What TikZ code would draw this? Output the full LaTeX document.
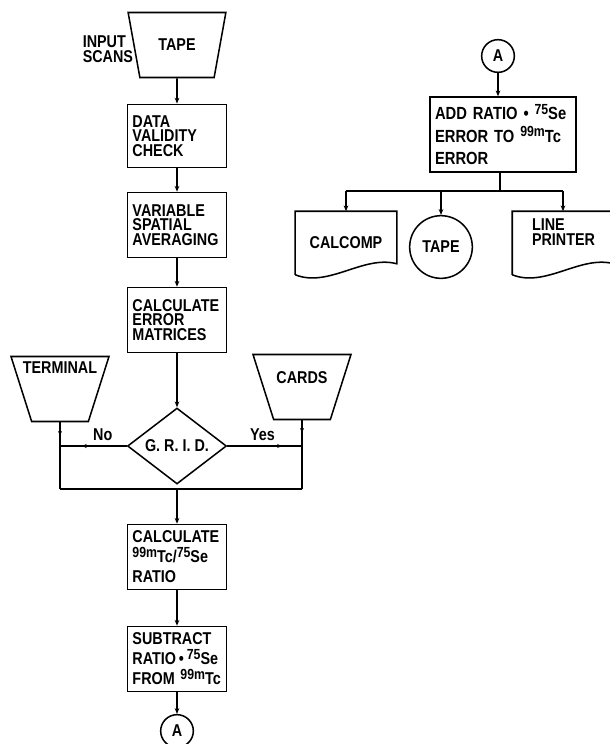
\documentclass[tikz,border=0pt]{standalone}
\usepackage{fontspec}
\setmainfont{Liberation Sans}[FakeStretch=0.84]
\usetikzlibrary{shapes.geometric, arrows.meta, calc, decorations.markings}
\newcommand{\iso}[1]{\raisebox{0.55ex}{\fontsize{12.5}{12.5}\selectfont #1}}

\begin{document}
\begin{tikzpicture}[
  x=0.03cm, y=-0.03cm,
  font=\bfseries\fontsize{14.6}{12.6}\selectfont,
  line width=1.3pt,
  proc/.style={draw, rectangle, minimum width=2.97cm, minimum height=1.95cm, text width=2.67cm, inner xsep=0.15cm, align=left},
  inbox/.style={draw, trapezium, shape border rotate=180, trapezium left angle=70, trapezium right angle=70, trapezium stretches=true, minimum width=2.94cm, minimum height=1.95cm},
  decision/.style={draw, diamond, minimum width=2.97cm, minimum height=2.13cm, inner sep=0pt},
  conn/.style={draw, circle, minimum size=0.98cm, inner sep=0pt},
  doc/.style={rectangle, minimum width=3cm, minimum height=1.86cm, align=left},
  arr/.style={-{Stealth[length=5pt, width=4pt]}},
  marrow/.style={postaction={decorate}, decoration={markings, mark=at position #1 with {\arrow{Stealth[length=4pt, width=3.5pt]}}}}
]
\useasboundingbox (0,0) rectangle (610,744);

\node[inbox] (tape) at (177,45) {TAPE};
\node[anchor=north west, align=left, inner sep=0pt] (inscan) at (82,35) {INPUT\\SCANS};
\node[proc, minimum height=1.9cm] (valid) at (177,136) {DATA\\VALIDITY\\CHECK};
\node[proc] (spatial) at (177,225) {VARIABLE\\SPATIAL\\AVERAGING};
\node[proc] (errmat) at (177,320) {CALCULATE\\ERROR\\MATRICES};
\node[decision] (grid) at (177,446) {G. R. I. D.};
\node[inbox, label={[yshift=0.63cm]center:TERMINAL}] (term) at (60,389) {};
\node[inbox, label={[yshift=0.27cm]center:CARDS}] (cards) at (302,387) {};
\coordinate (merge) at (177,489);
\node[proc, font=\bfseries\fontsize{14.6}{17}\selectfont] (ratio) at (177,557) {CALCULATE\\\iso{99m}Tc/\iso{75}Se\\RATIO};
\node[proc, font=\bfseries\fontsize{14.6}{17}\selectfont] (subtr) at (177,659) {SUBTRACT\\RATIO\,\textbullet\,\iso{75}Se\\FROM \iso{99m}Tc};
\node[conn] (conA) at (177,731) {A};

\node[conn] (conA2) at (498,56) {A};
\node[proc, minimum width=4.38cm, minimum height=2.25cm, text width=4.08cm, inner xsep=0.15cm, font=\bfseries\fontsize{15}{19}\selectfont] (addbox) at (503,134.5) {ADD RATIO \textbullet\ \iso{75}Se\\ERROR TO \iso{99m}Tc\\ERROR};
\coordinate (split) at (500,191);
\node[doc] (calcomp) at (346,243) {CALCOMP};
\node[conn, minimum size=1.88cm] (tape2) at (441,247) {TAPE};
\node[doc, label={[anchor=north west, align=left, inner sep=0pt, xshift=0.57cm, yshift=-0.2cm]north west:LINE\\PRINTER}] (lineprn) at (563,243) {};

\draw (calcomp.south west) -- (calcomp.north west) -- (calcomp.north east) -- ([yshift=0.33cm]calcomp.south east) .. controls ([xshift=-1cm, yshift=0.6cm]calcomp.south east) and ([xshift=1cm, yshift=-0.4cm]calcomp.south west) .. (calcomp.south west);
\draw (lineprn.south west) -- (lineprn.north west) -- (lineprn.north east) -- ([yshift=0.33cm]lineprn.south east) .. controls ([xshift=-1cm, yshift=0.6cm]lineprn.south east) and ([xshift=1cm, yshift=-0.4cm]lineprn.south west) .. (lineprn.south west);

\draw[arr] (tape) -- (valid);
\draw[arr] (valid) -- (spatial);
\draw[arr] (spatial) -- (errmat);
\draw[arr] (errmat) -- (grid);
\draw[marrow=0.67] (grid.west) -- node[pos=0.36, above=1pt] {No} (grid.west -| term);
\draw[marrow=0.73] (grid.east) -- node[pos=0.47, above=1pt] {Yes} (grid.east -| cards);
\draw[marrow=0.2] (term) -- (term |- merge);
\draw[marrow=0.18] (cards) -- (cards |- merge);
\draw (term |- merge) -- (cards |- merge);
\draw[arr] (merge) -- (ratio);
\draw[arr] (ratio) -- (subtr);
\draw[arr] (subtr) -- (conA);

\draw[arr] (conA2) -- (conA2 |- addbox.north);
\draw (split |- addbox.south) -- (split);
\draw (split -| calcomp) -- (split -| lineprn);
\draw[arr] (split -| calcomp) -- (calcomp.north);
\draw[arr] (split -| tape2) -- (tape2);
\draw[arr] (split -| lineprn) -- (lineprn.north);
\end{tikzpicture}
\end{document}
